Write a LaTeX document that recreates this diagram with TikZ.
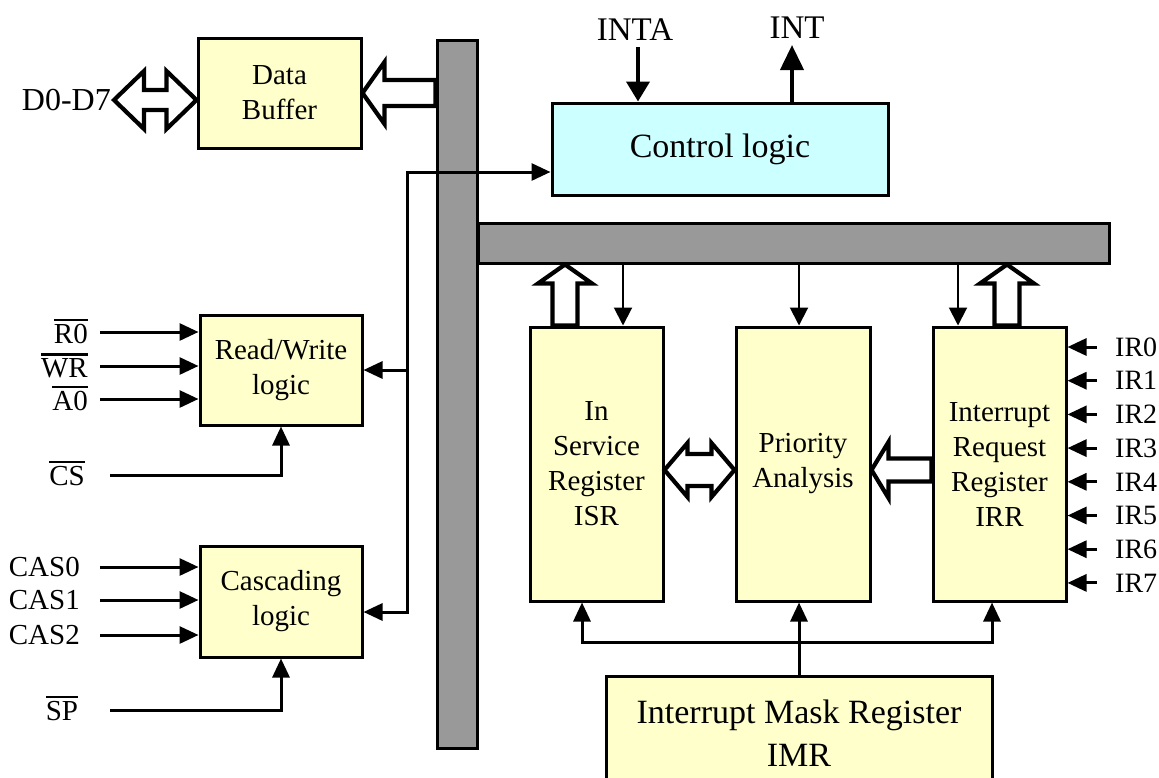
\documentclass[tikz,border=0pt]{standalone}
\usepackage{fontspec}
\setmainfont{Liberation Serif}
\usetikzlibrary{arrows.meta,positioning,calc}
\definecolor{paleyellow}{HTML}{FFFFCC}
\definecolor{palecyan}{HTML}{CCFFFF}
\definecolor{busgray}{HTML}{999999}
% active-low signal name with a bold bar
\newcommand\negsig[1]{\leavevmode\vbox{\hrule height 2.4pt\kern2.5pt\hbox{#1}}}
% hollow block arrow: tip, tail, head length, head half width, shaft half width
\newcommand\fatarrow[5]{%
 \coordinate (fab) at ($(#1)!#3!(#2)$);
 \draw[fat] (#1) -- ($(fab)!#4!90:(#1)$) -- ($(fab)!#5!90:(#1)$) -- ($(#2)!#5!90:(#1)$)
  -- ($(#2)!#5!-90:(#1)$) -- ($(fab)!#5!-90:(#1)$) -- ($(fab)!#4!-90:(#1)$) -- cycle;}
% hollow block arrow with two heads
\newcommand\fatdarrow[5]{%
 \coordinate (fa1) at ($(#1)!#3!(#2)$);
 \coordinate (fa2) at ($(#2)!#3!(#1)$);
 \draw[fat] (#1) -- ($(fa1)!#4!90:(#2)$) -- ($(fa1)!#5!90:(#2)$) -- ($(fa2)!#5!90:(#2)$)
  -- ($(fa2)!#4!90:(#2)$) -- (#2) -- ($(fa2)!#4!-90:(#2)$) -- ($(fa2)!#5!-90:(#2)$)
  -- ($(fa1)!#5!-90:(#2)$) -- ($(fa1)!#4!-90:(#2)$) -- cycle;}

\begin{document}
\begin{tikzpicture}[x=1pt,y=-1pt,>={Triangle[length=19pt,width=17pt]},
 blk/.style={draw,line width=3pt,fill=paleyellow,inner sep=0pt,align=center,font=\fontsize{29}{35}\selectfont},
 bus/.style={draw,line width=3pt,fill=busgray,inner sep=0pt},
 lbl/.style={inner sep=4pt,font=\fontsize{29}{35}\selectfont},
 sig/.style={line width=3pt,->},
 tap/.style={line width=2pt,-{Triangle[length=18pt,width=18pt]}},
 fat/.style={line width=4.2pt,fill=white,line join=miter}]
\useasboundingbox (0,0) rectangle (1159,777);
\clip (0,0) rectangle (1159,777);
% buses
\node[bus,minimum width=40pt,minimum height=708pt] (vbus) at (457,394) {};
\node[bus,minimum width=631pt,minimum height=40pt,anchor=west] (hbus) at (477,243) {};
% blocks
\node[blk,minimum width=163pt,minimum height=110pt] (buf) at (279.5,93) {Data\\Buffer};
\node[blk,fill=palecyan,minimum width=336pt,minimum height=92pt,font=\fontsize{34}{40}\selectfont] (ctrl) at (720,149) {Control logic};
\node[blk,minimum width=162pt,minimum height=110pt] (rw) at (281,370) {Read/Write\\logic};
\node[blk,minimum width=162pt,minimum height=111pt] (cas) at (281,601.5) {Cascading\\logic};
\node[blk,minimum width=133pt,minimum height=274pt] (isr) at (596.5,464) {In\\Service\\Register\\ISR};
\node[blk,minimum width=134pt,minimum height=274pt,right=70pt of isr] (pri) {Priority\\Analysis};
\node[blk,minimum width=133pt,minimum height=274pt,right=60pt of pri] (irr) {Interrupt\\Request\\Register\\IRR};
\node[blk,minimum width=386pt,minimum height=114pt,font=\fontsize{34}{43}\selectfont] (imr) at (799,733) {Interrupt Mask Register\\IMR};
% outside signals
\node[inner sep=3pt,anchor=east,font=\fontsize{32}{38}\selectfont] (d07) at (114,100) {D0-D7};
\node[font=\fontsize{33}{40}\selectfont] (inta) at (635,30) {INTA};
\node[font=\fontsize{33}{40}\selectfont] (int) at (797,28) {INT};
\coordinate (ia) at (638,47);
\coordinate (io) at (792,45);
\draw[line width=4pt,-{Triangle[length=20pt,width=23pt]}] (ia) -- (ia |- ctrl.north);
\draw[line width=4pt,-{Triangle[length=25pt,width=23pt]}] (io |- ctrl.north) -- (io);
\foreach \n/\t/\y in {r0/R0/332,wr/WR/366,a0/A0/399}{
 \coordinate (\n-in) at (100,\y);
 \node[lbl,anchor=base east] (\n) at (92,\y+11) {\negsig{\t}};
 \draw[sig] (\n-in) -- (\n-in -| rw.west);}
\node[lbl,anchor=base] (cs) at (67,485) {\negsig{CS}};
\coordinate (cs-in) at (110,475);
\draw[sig] (cs-in) -| (rw.south);
\foreach \n/\y in {0/567,1/600,2/635}{
 \node[lbl,anchor=east] (cas\n) at (84,\y) {CAS\n};
 \draw[sig,shorten <=16pt] (cas\n.east) -- (cas\n.east -| cas.west);}
\node[lbl,anchor=base] (sp) at (62,720) {\negsig{SP}};
\coordinate (sp-in) at (110,710);
\draw[sig] (sp-in) -| (cas.south);
\foreach \i in {0,...,7}{
 \node[lbl,anchor=west,font=\fontsize{28}{34}\selectfont] (ir\i) at (1111,{347+33.7*\i}) {IR\i};
 \draw[sig,shorten <=14pt] (ir\i.west) -- (ir\i.west -| irr.east);}
% control link across the bus
\coordinate (jt) at (407,172);
\coordinate (jb) at (407,612);
\draw[sig,<->] (jb -| cas.east) -- (jb) -- (jt) -- (jt -| ctrl.west);
\draw[sig] (jt |- rw.east) -- (rw.east);
% taps from the inner bus
\foreach \x/\b in {623/isr,799/pri,958/irr}{
 \coordinate (t) at (\x,0);
 \draw[tap] (t |- hbus.south) -- (t |- \b.north);}
% mask lines
\coordinate (ml) at (582,642);
\coordinate (mr) at (992,642);
\draw[sig] (imr.north) -- (imr.north |- pri.south);
\draw[sig,<->] (ml |- isr.south) -- (ml) -- (mr) -- (mr |- irr.south);
% block arrows
\coordinate (dbw) at (buf.west |- d07.east);
\fatdarrow{d07.east}{dbw}{30pt}{29pt}{10pt}
\coordinate (bb) at (vbus.west |- buf.east);
\fatarrow{buf.east}{bb}{22pt}{31pt}{13pt}
\coordinate (iu) at (565,0);
\coordinate (iut) at (iu |- hbus.south);
\coordinate (iub) at (iu |- isr.north);
\fatarrow{iut}{iub}{19pt}{27pt}{12.5pt}
\coordinate (ru) at (1007,0);
\coordinate (rut) at (ru |- hbus.south);
\coordinate (rub) at (ru |- irr.north);
\fatarrow{rut}{rub}{19pt}{27pt}{12.5pt}
\coordinate (ipa) at ([yshift=-6pt]isr.east);
\coordinate (ipb) at ([yshift=-6pt]pri.west);
\fatdarrow{ipa}{ipb}{23pt}{27pt}{16pt}
\coordinate (rpa) at ([yshift=-6pt]pri.east);
\coordinate (rpb) at ([yshift=-6pt]irr.west);
\fatarrow{rpa}{rpb}{17pt}{28pt}{11.5pt}
\end{tikzpicture}
\end{document}
